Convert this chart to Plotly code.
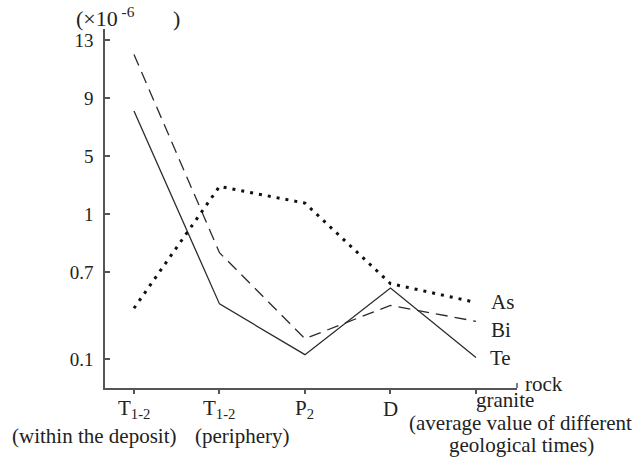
import numpy as np
import plotly.graph_objects as go

# ---- data (values in 10^-6) ----
categories = ["T1-2 (within the deposit)", "T1-2 (periphery)", "P2", "D", "granite"]
te_values = [8.1, 0.48, 0.13, 0.59, 0.11]
bi_values = [12.0, 0.80, 0.24, 0.47, 0.36]
as_values = [0.45, 2.9, 1.75, 0.62, 0.49]
y_tick_values = [0.1, 0.7, 1, 5, 9, 13]
y_tick_labels = ["0.1", "0.7", "1", "5", "9", "13"]

# broken (non-linear) y scale of the original: each tick value sits at a fixed slot
y_tick_slots = [0.5, 2, 3, 4, 5, 6]


def to_slot(vals):
    return list(np.interp(vals, y_tick_values, y_tick_slots))


x_pos = list(range(len(categories)))
FONT = "Liberation Serif, Times New Roman, serif"
INK = "#2b2b2b"
AX = "#555555"

fig = go.Figure()
fig.add_trace(go.Scatter(x=x_pos, y=to_slot(te_values), mode="lines",
                         line=dict(color=INK, width=1.3), name="Te"))
fig.add_trace(go.Scatter(x=x_pos, y=to_slot(bi_values), mode="lines",
                         line=dict(color=INK, width=1.3, dash="12px,7px"), name="Bi"))
fig.add_trace(go.Scatter(x=x_pos, y=to_slot(as_values), mode="lines",
                         line=dict(color="#111111", width=3, dash="3px,6px"), name="As"))

fig.update_layout(
    width=636, height=458, autosize=False,
    margin=dict(l=105, r=119, t=29, b=70),
    paper_bgcolor="white", plot_bgcolor="white",
    showlegend=False,
    font=dict(family=FONT, size=21, color="#222222"),
    xaxis=dict(range=[-0.339, 4.48], tickvals=x_pos, ticktext=[""] * 5,
               showline=True, linecolor=AX, linewidth=1.5, ticks="outside",
               ticklen=4, tickcolor=AX, tickwidth=1.5, showgrid=False, zeroline=False),
    yaxis=dict(range=[0, 6.19], tickvals=y_tick_slots, ticktext=y_tick_labels,
               showline=True, linecolor=AX, linewidth=1.5, ticks="inside",
               ticklen=5, tickcolor=AX, tickwidth=1.5, showgrid=False, zeroline=False,
               tickfont=dict(family=FONT, size=19, color="#222222"), ticklabelstandoff=6),
)


def px_x(px):
    return (px - 105) / 412


def px_y(py):
    return (388 - py) / 359


def label(text, x, y, xanchor="center", size=21):
    fig.add_annotation(text=text, xref="paper", yref="paper", x=px_x(x), y=px_y(y),
                       xanchor=xanchor, yanchor="middle", showarrow=False,
                       font=dict(family=FONT, size=size, color="#222222"))


label("(×10<sup> -6 &nbsp; &nbsp; &nbsp; &nbsp; &nbsp;</sup>)", 74, 17, xanchor="left", size=22)
label("T<sub>1-2</sub>", 134, 409)
label("(within the deposit)", 94, 436)
label("T<sub>1-2</sub>", 219, 409)
label("(periphery)", 242, 436)
label("P<sub>2</sub>", 304, 409)
label("D", 390, 409)
label("granite", 505, 400)
label("(average value of different", 520, 423)
label("geological times)", 521, 445)
label("rock", 523, 384, xanchor="left")
label("As", 489, 302, xanchor="left")
label("Bi", 489, 330, xanchor="left")
label("Te", 488, 358, xanchor="left")

# small end cap of the x axis
fig.add_shape(type="line", xref="paper", yref="paper", x0=1, x1=1, y0=0, y1=5 / 359,
              line=dict(color=AX, width=1.5))

fig.write_html("out.html", config={"displayModeBar": False},
               post_script="document.body.style.margin='0';")
